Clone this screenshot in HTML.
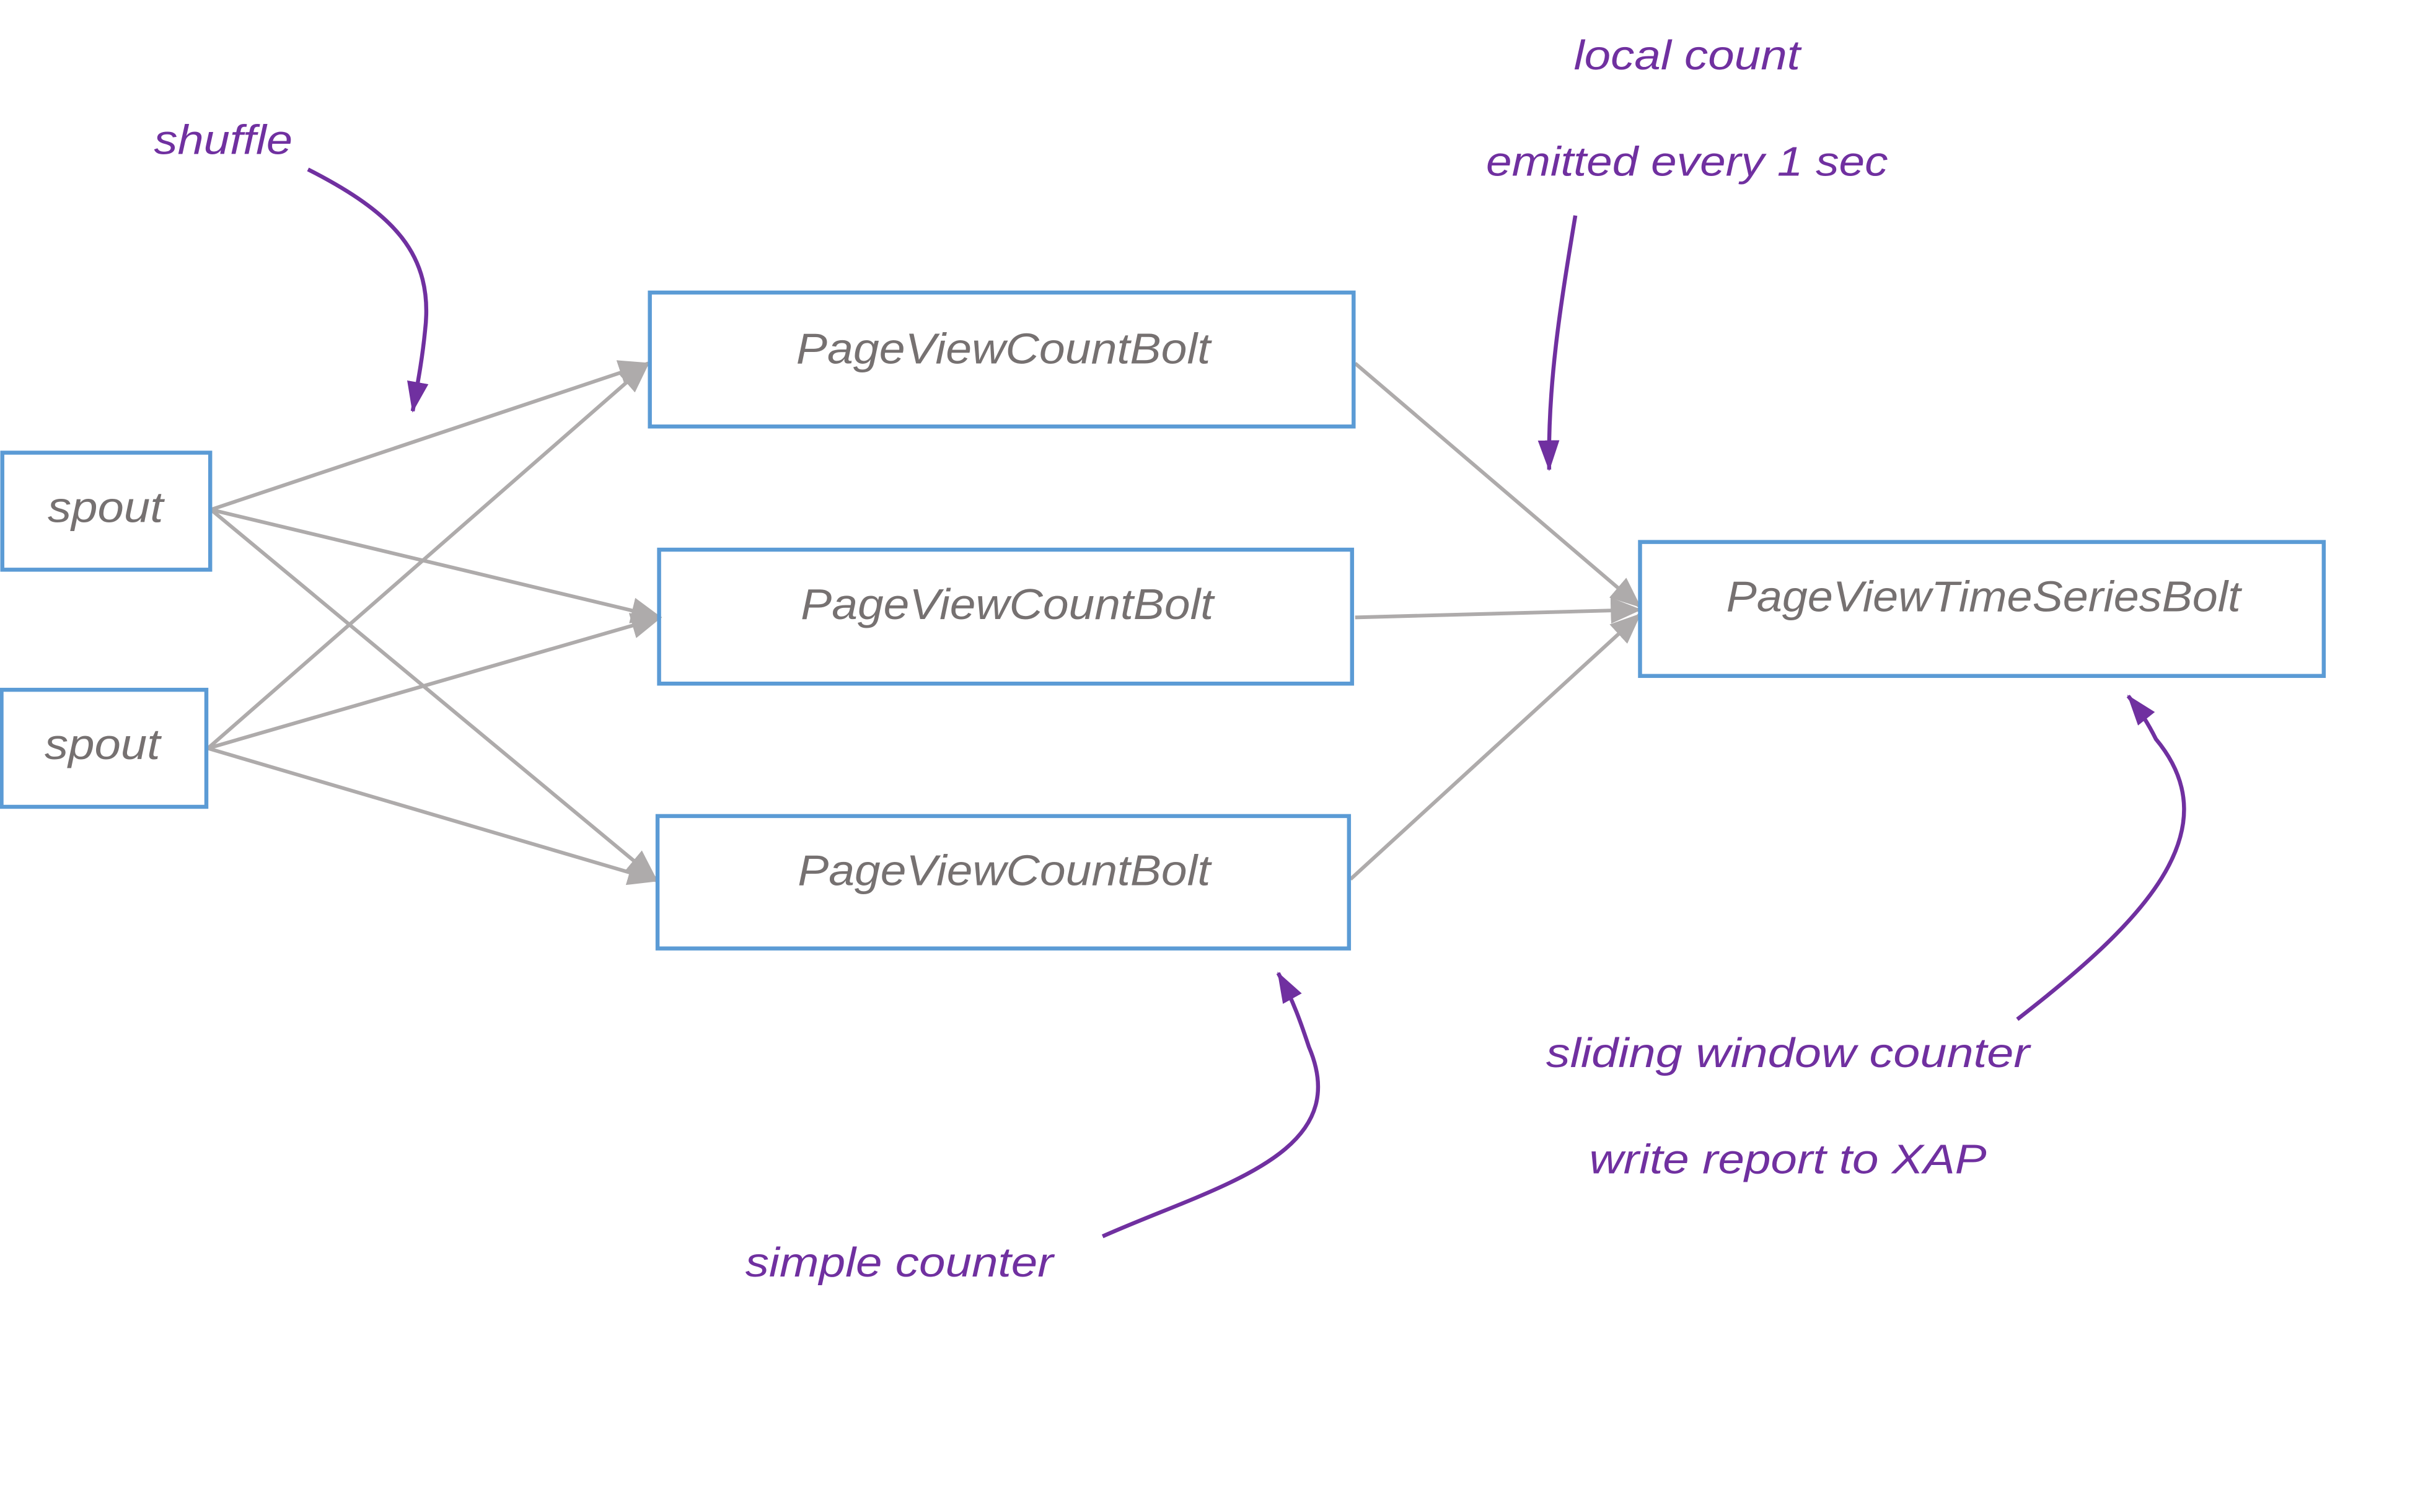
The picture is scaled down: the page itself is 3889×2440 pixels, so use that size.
<!DOCTYPE html>
<html><head><meta charset="utf-8"><style>
html,body{margin:0;padding:0;background:#fff;}
svg{display:block;}
</style></head><body>
<svg width="3889" height="2440" viewBox="0 0 1565 982" preserveAspectRatio="none" xmlns="http://www.w3.org/2000/svg">
<defs>
<marker id="g" viewBox="0 0 10 10" refX="9.5" refY="5" markerWidth="20" markerHeight="17" markerUnits="userSpaceOnUse" orient="auto" preserveAspectRatio="none"><path d="M0,0 L10,5 L0,10 z" fill="#aeabab"/></marker>
<marker id="p" viewBox="0 0 10 10" refX="9.5" refY="5" markerWidth="20" markerHeight="14" markerUnits="userSpaceOnUse" orient="auto" preserveAspectRatio="none"><path d="M0,0 L10,5 L0,10 z" fill="#7030a0"/></marker>
</defs>
<g fill="none" stroke="#aeabab" stroke-width="2.4">
<line x1="137" y1="331" x2="421" y2="236" marker-end="url(#g)"/>
<line x1="137" y1="331" x2="429" y2="401" marker-end="url(#g)"/>
<line x1="137" y1="331" x2="426" y2="571" marker-end="url(#g)"/>
<line x1="135" y1="486" x2="421" y2="236" marker-end="url(#g)"/>
<line x1="135" y1="486" x2="429" y2="401" marker-end="url(#g)"/>
<line x1="135" y1="486" x2="427" y2="572" marker-end="url(#g)"/>
<line x1="880" y1="236" x2="1065" y2="394" marker-end="url(#g)"/>
<line x1="880" y1="401" x2="1065" y2="396" marker-end="url(#g)"/>
<line x1="877" y1="571" x2="1065" y2="399" marker-end="url(#g)"/>
</g>
<g fill="none" stroke="#5b9bd5" stroke-width="2.6">
<rect x="1.5" y="294" width="135" height="76"/>
<rect x="1" y="448" width="133" height="76"/>
<rect x="422" y="190" width="457" height="87"/>
<rect x="428" y="357" width="450" height="87"/>
<rect x="427" y="530" width="449" height="86"/>
<rect x="1065" y="352" width="444" height="87"/>
</g>
<g font-family="Liberation Sans, sans-serif" font-style="italic" fill="#767171" font-size="28">
<text x="31" y="339" textLength="75" lengthAdjust="spacingAndGlyphs">spout</text>
<text x="29" y="493" textLength="75" lengthAdjust="spacingAndGlyphs">spout</text>
<text x="517" y="236" textLength="269" lengthAdjust="spacingAndGlyphs">PageViewCountBolt</text>
<text x="520" y="402" textLength="268" lengthAdjust="spacingAndGlyphs">PageViewCountBolt</text>
<text x="518" y="575" textLength="268" lengthAdjust="spacingAndGlyphs">PageViewCountBolt</text>
<text x="1121" y="397" textLength="334" lengthAdjust="spacingAndGlyphs">PageViewTimeSeriesBolt</text>
</g>
<g font-family="Liberation Sans, sans-serif" font-style="italic" fill="#7030a0" font-size="27">
<text x="100" y="100" textLength="90" lengthAdjust="spacingAndGlyphs">shuffle</text>
<text x="1022" y="45" textLength="147" lengthAdjust="spacingAndGlyphs">local count</text>
<text x="965" y="114" textLength="261" lengthAdjust="spacingAndGlyphs">emitted every 1 sec</text>
<text x="1004" y="693" textLength="314" lengthAdjust="spacingAndGlyphs">sliding window counter</text>
<text x="1032" y="762" textLength="258" lengthAdjust="spacingAndGlyphs">write report to XAP</text>
<text x="484" y="829" textLength="200" lengthAdjust="spacingAndGlyphs">simple counter</text>
</g>
<g fill="none" stroke="#7030a0" stroke-width="2.6">
<path d="M200,110 C255,138 282,165 276,215 C274,235 271,250 268,267" marker-end="url(#p)"/>
<path d="M1023,140 C1013,200 1005,250 1006,305" marker-end="url(#p)"/>
<path d="M1310,662 C1390,600 1450,540 1400,480 C1395,470 1390,462 1382,452" marker-end="url(#p)"/>
<path d="M716,803 C790,770 880,750 850,680 C845,665 840,650 830,632" marker-end="url(#p)"/>
</g>
</svg>
</body></html>
